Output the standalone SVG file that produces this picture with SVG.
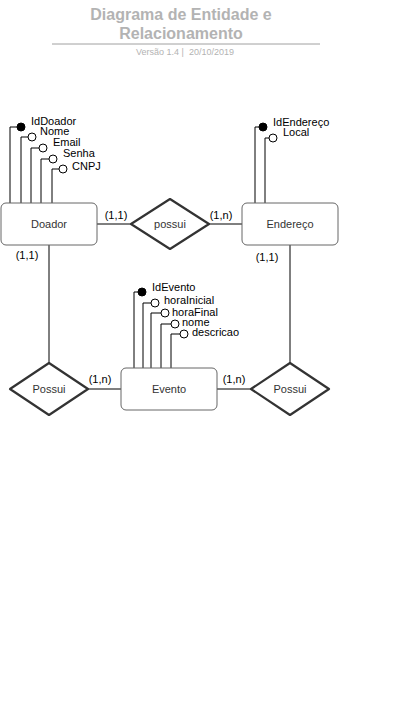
<svg xmlns="http://www.w3.org/2000/svg" width="407" height="717" viewBox="0 0 407 717">
<style>
text{font-family:"Liberation Sans",Arial,sans-serif;}
.ent{fill:#fff;stroke:#666;stroke-width:1}
.rel{fill:#fff;stroke:#333;stroke-width:2.2;stroke-linejoin:round}
.lbl{font-size:11px;fill:#333;text-anchor:middle;dominant-baseline:central}
.at{font-size:11px;fill:#000}
.card{font-size:11px;fill:#000;text-anchor:middle}
.ln{fill:none;stroke:#000;stroke-width:1}
.pk{fill:#000;stroke:#000}
.op{fill:#fff;stroke:#000}
</style>
<g id="title">
<text x="181" y="20" font-size="16" font-weight="bold" fill="#B3B3B3" text-anchor="middle">Diagrama de Entidade e</text>
<text x="181" y="39" font-size="16" font-weight="bold" fill="#B3B3B3" text-anchor="middle">Relacionamento</text>
<line x1="52" y1="44" x2="320" y2="44" stroke="#A0A0A0" stroke-width="1"/>
<text x="185" y="55" font-size="9" fill="#B3B3B3" text-anchor="middle" xml:space="preserve">Versão 1.4 |  20/10/2019</text>
</g>
<g id="connectors">
<path class="ln" d="M97 224H131M209 224H242M49 245V363M290 245V363M88 389H121M217 389H251"/>
<text class="card" x="116" y="219">(1,1)</text>
<text class="card" x="221" y="219">(1,n)</text>
<text class="card" x="27" y="259">(1,1)</text>
<text class="card" x="267" y="261">(1,1)</text>
<text class="card" x="100" y="383">(1,n)</text>
<text class="card" x="234" y="383">(1,n)</text>
</g>
<g id="doador-attrs">
<path class="ln" d="M10 203V127H17M21 203V137H28M31 203V148H39M41 203V159H49M52 203V169H59"/>
<circle class="pk" cx="21" cy="127" r="4"/>
<circle class="op" cx="32" cy="137" r="4"/>
<circle class="op" cx="43" cy="148" r="4"/>
<circle class="op" cx="53" cy="159" r="4"/>
<circle class="op" cx="63" cy="169" r="4"/>
<text class="at" x="31" y="125">IdDoador</text>
<text class="at" x="40" y="135">Nome</text>
<text class="at" x="53" y="146">Email</text>
<text class="at" x="63" y="157">Senha</text>
<text class="at" x="72" y="170">CNPJ</text>
</g>
<g id="endereco-attrs">
<path class="ln" d="M255 203V127H259M265 203V138H269"/>
<circle class="pk" cx="263" cy="127" r="4"/>
<circle class="op" cx="273" cy="138" r="4"/>
<text class="at" x="273" y="126">IdEndereço</text>
<text class="at" x="283" y="136">Local</text>
</g>
<g id="evento-attrs">
<path class="ln" d="M134 368V292H138M143 368V303H151M151 368V313H161M161 368V324H171M171 368V334H180"/>
<circle class="pk" cx="142" cy="292" r="4"/>
<circle class="op" cx="155" cy="303" r="4"/>
<circle class="op" cx="165" cy="313" r="4"/>
<circle class="op" cx="175" cy="324" r="4"/>
<circle class="op" cx="184" cy="334" r="4"/>
<text class="at" x="152" y="291">IdEvento</text>
<text class="at" x="164" y="304">horaInicial</text>
<text class="at" x="172" y="316">horaFinal</text>
<text class="at" x="182" y="326">nome</text>
<text class="at" x="192" y="336">descricao</text>
</g>
<g id="doador">
<rect class="ent" x="1" y="203" width="96" height="42" rx="5"/>
<text class="lbl" x="49" y="224">Doador</text>
</g>
<g id="endereco">
<rect class="ent" x="242" y="203" width="96" height="42" rx="5"/>
<text class="lbl" x="290" y="224">Endereço</text>
</g>
<g id="evento">
<rect class="ent" x="121" y="368" width="96" height="42" rx="5"/>
<text class="lbl" x="169" y="389">Evento</text>
</g>
<g id="possui-top">
<polygon class="rel" points="131,224 170,199 209,224 170,249"/>
<text class="lbl" x="170" y="224">possui</text>
</g>
<g id="possui-left">
<polygon class="rel" points="10,389 49,363 88,389 49,415"/>
<text class="lbl" x="49" y="389">Possui</text>
</g>
<g id="possui-right">
<polygon class="rel" points="251,389 290,363 329,389 290,415"/>
<text class="lbl" x="290" y="389">Possui</text>
</g>
</svg>
